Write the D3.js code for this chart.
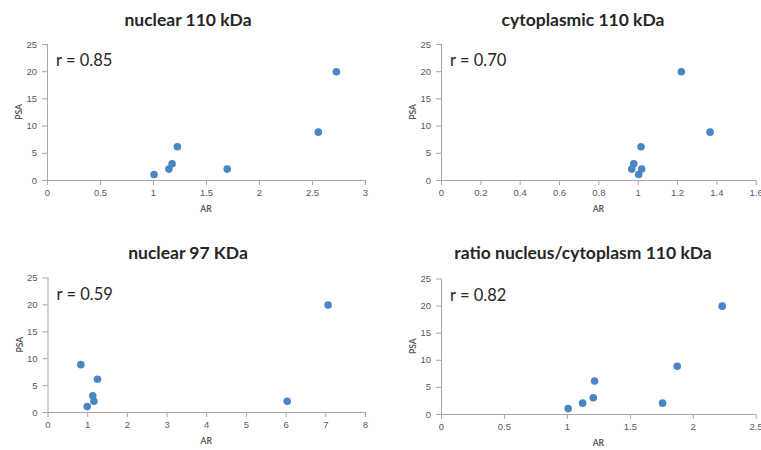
<!DOCTYPE html>
<html>
<head>
<meta charset="utf-8">
<script src="https://cdn.jsdelivr.net/npm/d3@7"></script>
<style>
  body { margin: 0; background: #fff; }
  svg { display: block; font-family: Lato, "Open Sans", sans-serif; }
  .tick text { fill: #595959; font-size: 9.5px; }
  .domain, .tick line { stroke: #a6a6a6; }
</style>
</head>
<body>
<svg id="chart" width="761" height="450"></svg>
<script>
// PSA is the same for every panel, AR differs
var psa = [1, 2, 3, 6.1, 2, 8.8, 19.9];

var arNuclear110 = [1.01, 1.15, 1.18, 1.23, 1.70, 2.56, 2.73];
var arCyto110 = [1.005, 1.02, 0.98, 1.017, 0.97, 1.368, 1.222];
var arNuclear97 = [1.0, 1.17, 1.14, 1.26, 6.04, 0.84, 7.07];
var arRatio110 = [1.01, 1.125, 1.21, 1.22, 1.76, 1.877, 2.234];

var titles = ['nuclear 110 kDa', 'cytoplasmic 110 kDa', 'nuclear 97 KDa', 'ratio nucleus/cytoplasm 110 kDa'];
var rLabels = ['r = 0.85', 'r = 0.70', 'r = 0.59', 'r = 0.82'];
var xMax = [3, 1.6, 8, 2.5];
var xStep = [0.5, 0.2, 1, 0.5];
var yTicks = [0, 5, 10, 15, 20, 25];

var panels = [
  { ar: arNuclear110, left: 47, right: 365, top: 44, bottom: 180, cx: 188, ty: 26 },
  { ar: arCyto110, left: 441, right: 755.7, top: 44, bottom: 180, cx: 583, ty: 26 },
  { ar: arNuclear97, left: 47.5, right: 365, top: 277.5, bottom: 412, cx: 188, ty: 259 },
  { ar: arRatio110, left: 441, right: 755.7, top: 278.5, bottom: 414, cx: 583, ty: 259 }
];

var svg = d3.select('#chart');

panels.forEach(function (p, i) {
  var x = d3.scaleLinear().domain([0, xMax[i]]).range([p.left, p.right]);
  var y = d3.scaleLinear().domain([0, 25]).range([p.bottom, p.top]);
  var xt = d3.range(0, xMax[i] + 1e-9, xStep[i]);

  var g = svg.append('g');

  g.append('g')
    .attr('transform', 'translate(0,' + p.bottom + ')')
    .call(d3.axisBottom(x).tickValues(xt).tickSize(5).tickPadding(4).tickFormat(d3.format('~g')))
    .call(function (a) { a.select('.domain').attr('d', 'M' + p.left + ',0.5H' + p.right); });

  g.append('g')
    .attr('transform', 'translate(' + p.left + ',0)')
    .call(d3.axisLeft(y).tickValues(yTicks).tickSize(5).tickPadding(5))
    .call(function (a) { a.select('.domain').attr('d', 'M0.5,' + p.bottom + 'V' + p.top); });

  g.selectAll('circle')
    .data(p.ar.map(function (v, k) { return [v, psa[k]]; }))
    .enter()
    .append('circle')
    .attr('cx', function (d) { return x(d[0]); })
    .attr('cy', function (d) { return y(d[1]); })
    .attr('r', 3.8)
    .style('fill', '#4a86c6');

  g.append('text')
    .attr('x', p.cx).attr('y', p.ty)
    .attr('text-anchor', 'middle')
    .style('font-size', '17.5px').style('font-weight', 'bold').style('fill', '#262626')
    .text(titles[i]);

  g.append('text')
    .attr('x', p.left + 9).attr('y', p.top + 22)
    .style('font-size', '16.5px').style('fill', '#262626')
    .text(rLabels[i]);

  g.append('text')
    .attr('x', (p.left + p.right) / 2).attr('y', p.bottom + 32)
    .attr('text-anchor', 'middle')
    .style('font-size', '8.5px').style('font-weight', 'bold').style('fill', '#595959')
    .text('AR');

  g.append('text')
    .attr('transform', 'translate(' + (p.left - 25) + ',' + ((p.top + p.bottom) / 2) + ') rotate(-90)')
    .attr('text-anchor', 'middle')
    .style('font-size', '8.5px').style('font-weight', 'bold').style('fill', '#595959')
    .text('PSA');
});
</script>
</body>
</html>
